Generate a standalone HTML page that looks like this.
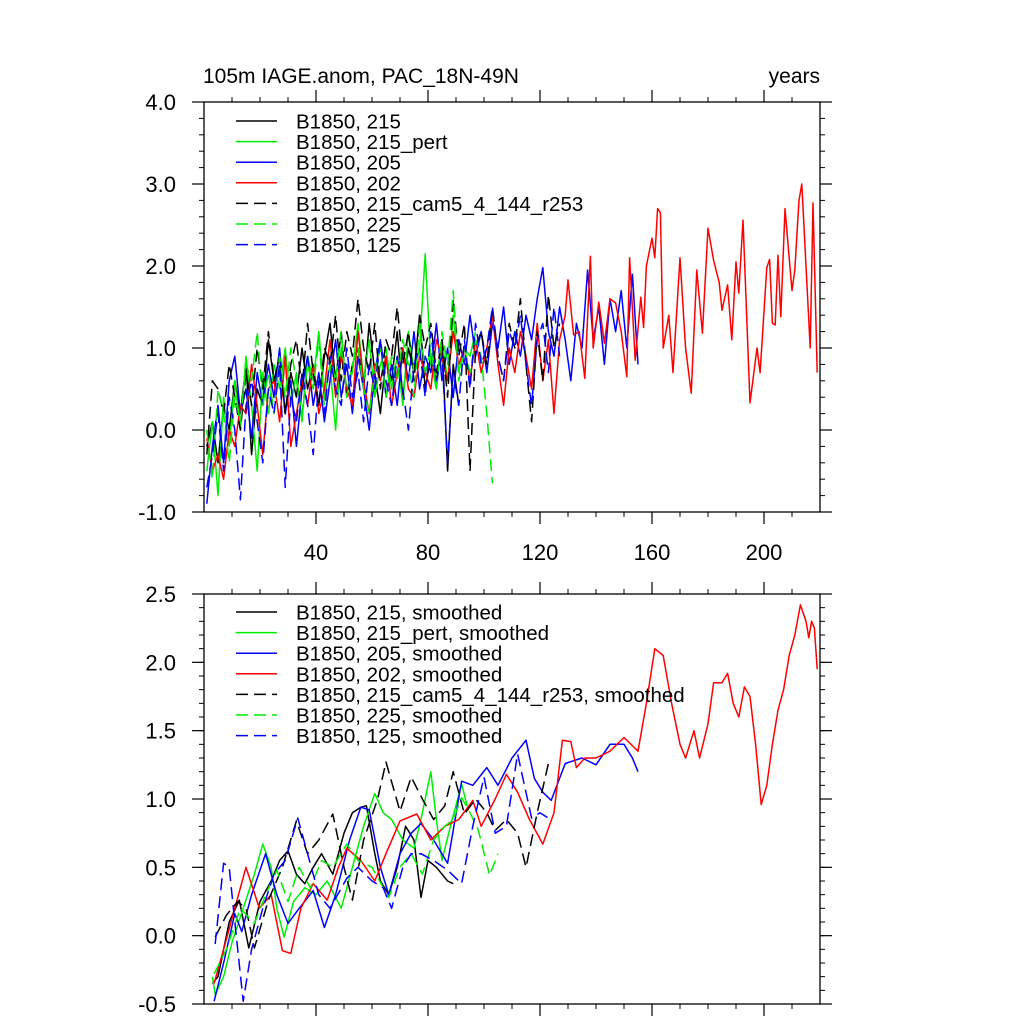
<!DOCTYPE html>
<html><head><meta charset="utf-8"><style>
html,body{margin:0;padding:0;background:#fff}
svg{display:block;font-family:"Liberation Sans",sans-serif}
</style></head><body>
<svg id="chart" width="1024" height="1024" viewBox="0 0 1024 1024" xmlns="http://www.w3.org/2000/svg">
<rect width="1024" height="1024" fill="#fff"/>
<text x="203" y="83" font-size="21">105m IAGE.anom, PAC_18N-49N</text>
<text x="820" y="83" font-size="21" text-anchor="end">years</text>
<g id="top"></g>
<g id="bot"></g>
</svg>
<script>
// ---------- data: top panel (raw), step 2 years from year 1 ----------
const xTicks = [40, 80, 120, 160, 200];
const topYTicks = [-1.0, 0.0, 1.0, 2.0, 3.0, 4.0];
const botYTicks = [-0.5, 0.0, 0.5, 1.0, 1.5, 2.0, 2.5];
const topLabels = ["B1850, 215","B1850, 215_pert","B1850, 205","B1850, 202","B1850, 215_cam5_4_144_r253","B1850, 225","B1850, 125"];
const botLabels = ["B1850, 215, smoothed","B1850, 215_pert, smoothed","B1850, 205, smoothed","B1850, 202, smoothed","B1850, 215_cam5_4_144_r253, smoothed","B1850, 225, smoothed","B1850, 125, smoothed"];
const colors = ["#000","#00ee00","#0000ff","#ff0000","#000","#00ee00","#0000ff"];
const dashed = [false,false,false,false,true,true,true];

const raw215 = [-0.2,0.1,-0.4,0.3,0.0,0.6,0.2,0.8,-0.3,0.5,0.3,1.1,0.6,0.9,0.2,0.7,0.4,1.0,0.5,0.8,0.3,0.9,1.3,0.6,1.2,0.4,0.8,1.0,0.5,1.3,0.7,0.2,0.9,0.6,1.2,0.4,1.0,0.7,1.4,0.5,0.9,0.6,1.1,-0.5,0.8,0.3];
const raw215pert = [-0.5,0.1,-0.8,0.4,-0.2,0.6,0.0,0.9,0.3,-0.5,0.7,0.2,0.8,0.5,1.0,0.3,0.7,0.1,0.9,0.6,1.2,0.4,0.8,0.0,1.0,0.5,0.7,1.3,0.6,1.1,0.4,0.8,1.0,0.5,0.9,0.3,1.2,0.7,1.0,2.15,0.8,0.5,1.1,0.6,1.4,0.7,1.0,0.9,1.2];
const raw205 = [-0.9,-0.2,0.3,-0.4,0.6,0.9,0.2,0.5,-0.1,0.7,0.3,0.8,0.4,1.0,0.2,0.6,-0.2,0.5,0.9,0.3,0.7,0.1,0.6,1.1,0.4,0.8,0.2,0.9,0.5,0.0,0.7,1.1,0.4,0.8,0.3,1.0,0.6,1.2,0.5,0.9,0.7,1.3,0.6,1.0,0.4,1.1,0.8,1.4,0.9,1.2,0.7,1.3,1.0,1.5,0.8,1.2,0.9,1.4,1.1,1.6,1.98,1.2,0.9,1.5,1.1,0.6,1.3,1.0,1.95,1.1,1.5,0.8,1.6,1.2,1.7,1.0,1.9,0.8];
const raw253 = [-0.3,0.6,0.5,0.2,0.8,0.4,0.0,0.7,0.3,1.0,0.5,1.2,0.6,0.9,0.2,0.8,1.1,0.5,1.3,0.7,0.3,1.0,0.8,1.4,0.6,1.2,0.9,1.6,1.0,0.7,1.3,0.5,1.1,0.9,1.5,0.8,1.2,0.6,1.4,1.0,1.3,0.7,1.1,0.4,1.6,0.9,1.3,-0.5,1.0,1.2,0.8,1.5,0.9,0.6,1.3,1.0,1.6,0.8,0.1,1.2,0.6,1.65,1.0,1.3];
const raw225 = [0.0,-0.6,0.5,0.2,-0.4,0.4,0.1,0.8,0.6,1.2,0.3,0.7,0.2,0.9,0.4,1.0,0.6,0.2,0.8,0.5,1.1,0.3,0.9,0.6,1.2,0.4,0.8,1.0,0.5,0.2,0.7,1.0,0.4,0.9,0.6,1.1,0.8,0.4,1.3,0.7,1.0,0.5,1.2,0.8,1.7,0.6,1.0,0.7,1.1,0.9,0.2,-0.65];
const raw125 = [-0.7,-0.3,0.2,-0.5,0.4,0.0,-0.85,0.3,0.6,0.1,-0.4,0.5,0.2,0.8,-0.7,0.4,0.1,0.7,0.3,-0.3,0.6,0.2,0.9,0.5,0.3,1.0,0.4,0.7,0.1,0.8,0.5,1.1,0.6,0.3,0.9,0.5,0.0,0.8,1.0,0.4,1.2,0.6,0.9,-0.4,0.7,0.3,1.1,0.5,1.3,0.8,1.0,1.5,0.9,0.6,1.2,1.0,1.4,0.8,0.3,1.1,1.3,0.7,1.5,0.9];
// red (202) raw given as year/value pairs
const raw202Years = [1,3,5,7,9,11,13,15,17,19,21,23,25,27,29,31,33,35,37,39,41,43,45,47,49,51,53,55,57,59,61,63,65,67,69,71,73,75,77,79,81,83,85,87,89,91,93,95,97,99,101,103,105,107,109,111,113,115,117,119,121,123,125,127,129,130,132,134,136,138,139,141,143,145,147,149,151,152,154,156,157,158,160,161,162,163,164,166,167.5,170,172,174,176,178,180,182,184,185,187,188.5,190,191,192.5,195,197.5,198.6,201,202,203,204,205,206,207.5,210,211,212.5,213.5,216.5,217.5,219];
const raw202Vals = [-0.1,-0.5,-0.3,-0.6,0.0,-0.2,0.3,0.2,0.8,0.3,-0.3,0.5,0.6,0.1,0.9,-0.2,0.2,0.6,0.3,0.8,0.2,0.5,1.1,0.4,0.9,0.5,0.3,1.2,0.6,0.2,0.8,0.6,0.9,0.3,0.7,1.0,0.5,0.4,0.9,0.7,0.5,1.1,0.9,0.6,1.2,0.8,1.0,0.6,1.1,0.7,1.0,1.4,0.8,0.3,1.0,0.7,1.2,0.9,0.5,1.3,0.6,1.1,0.2,1.1,1.4,1.83,1.16,1.2,0.63,2.12,1.0,1.56,1.06,1.6,1.55,1.2,0.65,2.1,0.85,1.62,1.25,2.0,2.34,2.1,2.7,2.65,1.0,1.4,0.7,2.1,1.0,0.45,1.95,1.18,2.46,2.07,1.8,1.46,1.77,1.1,2.05,1.67,2.56,0.33,1.0,0.7,1.98,2.08,1.3,1.28,2.13,1.38,2.7,1.7,1.95,2.8,3.0,1.0,2.77,0.7];

// ---------- data: bottom panel (smoothed), year/value pairs ----------
const sm215Years = [3,5,9,12.6,16,20,24,27,30,33,36,39,42,46,50,53,56,58,61,63,66,69,72,75,77.5,80,83,85,87,89];
const sm215Vals  = [-0.35,-0.3,0.1,0.26,-0.09,0.25,0.4,0.55,0.62,0.45,0.38,0.5,0.6,0.45,0.75,0.9,0.94,0.95,0.6,0.4,0.3,0.5,0.8,0.7,0.28,0.55,0.5,0.45,0.4,0.38];
const smPertYears = [3,4,7,10,14,18,21,24,26,28.6,32,36,40,44,49,53,57,61,64,67,71,75,78,81,83,85,88,92,94];
const smPertVals  = [-0.3,-0.43,-0.3,-0.05,0.2,0.45,0.67,0.5,0.2,-0.01,0.25,0.35,0.3,0.4,0.2,0.5,0.8,1.04,0.9,0.85,0.7,0.64,0.9,1.2,0.85,0.55,0.8,1.11,0.95];
const sm205Years = [3.6,7,11,13.5,17,22,26,30,34,39,43,47,52,56,59,63,66,70,74,77.5,82,87,92,96,101,105,110,115,118,121,124,129,135,140,145,150,153,155];
const sm205Vals  = [-0.48,-0.2,0.16,0.03,0.3,0.6,0.3,0.09,0.2,0.33,0.06,0.3,0.7,0.94,0.92,0.5,0.3,0.6,0.75,0.82,0.7,0.53,1.13,1.1,1.23,1.1,1.3,1.43,1.15,1.05,0.99,1.26,1.3,1.25,1.4,1.4,1.3,1.2];
const sm202Years = [3.6,7,11,15,19.8,24,28,31,34.6,39,44,48,51,56,61,65,70,76,81,86,91,96,99,104,108,112,116,121,125,128,131,133,136,140,145,150,155,158,161,164,167,170,172,175,177,180,182,185,187,189,191,193,195,197,199,201,203,205,207,209,211,213,215,216,217,218,219];
const sm202Vals  = [-0.35,-0.1,0.2,0.5,0.2,0.3,-0.11,-0.13,0.2,0.38,0.26,0.5,0.64,0.55,0.4,0.6,0.84,0.89,0.7,0.8,0.85,0.99,0.8,1.0,1.18,1.05,0.86,0.67,0.9,1.43,1.42,1.23,1.3,1.3,1.35,1.45,1.35,1.7,2.1,2.05,1.7,1.4,1.3,1.5,1.3,1.55,1.85,1.85,1.92,1.7,1.6,1.82,1.75,1.4,0.96,1.1,1.4,1.65,1.8,2.05,2.2,2.42,2.3,2.18,2.3,2.25,1.95];
const sm253Years = [4,8,12,15,18,23,28,33,37,41,46,50,53,57,62,65,70,74,78,82,86,89,93,97,101,104,108,112,115,119,123,124];
const sm253Vals  = [-0.01,0.15,0.25,0.2,-0.09,0.26,0.5,0.84,0.6,0.7,0.89,0.5,0.26,0.7,1.0,1.27,0.91,1.16,1.0,0.85,0.95,1.2,0.89,1.0,0.9,0.77,0.85,0.75,0.5,0.9,1.26,1.25];
const sm225Years = [3.6,8,13,18,22,26,30,34,38,42,46,51,55,60,66,70,74,78,82,86,89,92,95,98,102,105];
const sm225Vals  = [-0.28,-0.1,0.2,0.09,0.3,0.48,0.25,0.5,0.35,0.55,0.5,0.67,0.55,0.5,0.28,0.5,0.6,0.45,0.7,0.8,0.85,1.01,0.9,0.77,0.44,0.6];
const sm125Years = [4,7,9,11,14,17,21,25,29,33.5,37,41,45,51,55,60,64,67,71,74,77.5,82,87,92,96,100,104,108,112,117,120,123];
const sm125Vals  = [-0.06,0.53,0.5,0.1,-0.48,-0.1,0.2,0.45,0.55,0.86,0.6,0.3,0.2,0.42,0.5,0.4,0.35,0.2,0.5,0.6,0.6,0.55,0.48,0.38,0.8,1.16,0.75,0.8,1.33,0.86,0.9,0.86];

// ---------- drawing ----------
const NS = "http://www.w3.org/2000/svg";
const X0 = 204, X1 = 820, XMAX = 220;
function xScale(yr){ return X0 + yr * (X1 - X0) / XMAX; }
function mk(tag, attrs, parent){ const e = document.createElementNS(NS, tag); for (const k in attrs) e.setAttribute(k, attrs[k]); parent.appendChild(e); return e; }

function drawPanel(g, top, bot, ymin, ymax, yTicks, yMinorStep, showXLabels, labels, legendY0, series){
  const yScale = v => bot - (v - ymin) * (bot - top) / (ymax - ymin);
  for (let v = ymin; v <= ymax + 1e-9; v += yMinorStep){
    const y = yScale(v);
    const t1 = mk("line", {x1: X0 - 5, x2: X0, y1: y, y2: y, stroke: "#000", "stroke-width": 1}, g);
    
    
    const t2 = mk("line", {x1: X1, x2: X1 + 5, y1: y, y2: y, stroke: "#000", "stroke-width": 1}, g);
    
    
  }
  yTicks.forEach(v => {
    const y = yScale(v);
    const t = mk("line", {x1: X0 - 12, x2: X0, y1: y, y2: y, stroke: "#000", "stroke-width": 1.2}, g);
    
    
    const t2 = mk("line", {x1: X1, x2: X1 + 12, y1: y, y2: y, stroke: "#000", "stroke-width": 1.2}, g);
    
    
    const lb = mk("text", {x: 176, y: y + 8, "font-size": 22, "text-anchor": "end"}, g);
    lb.textContent = v.toFixed(1);
    
    
  });
  for (let yr = 10; yr < XMAX; yr += 10){
    const x = xScale(yr);
    const major = yr % 40 === 0;
    const len = major ? 12 : 5;
    const a = mk("line", {x1: x, x2: x, y1: bot, y2: bot + len, stroke: "#000", "stroke-width": major ? 1.2 : 1}, g);
    
    
    const b = mk("line", {x1: x, x2: x, y1: top - len, y2: top, stroke: "#000", "stroke-width": major ? 1.2 : 1}, g);
    
    
  }
  if (showXLabels){
    xTicks.forEach(v => {
      const lb = mk("text", {x: xScale(v), y: bot + 48, "font-size": 22, "text-anchor": "middle"}, g);
      lb.textContent = String(v);
      
      
    });
  }
  const clipId = "clip" + top;
  const cp = mk("clipPath", {id: clipId}, g);
  mk("rect", {x: X0, y: top, width: X1 - X0, height: bot - top}, cp);
  const lg = mk("g", {"clip-path": "url(#" + clipId + ")"}, g);
  series.forEach((s, i) => {
    const pts = s.years.map((yr, j) => xScale(yr).toFixed(1) + "," + yScale(s.vals[j]).toFixed(1)).join(" ");
    const p = mk("polyline", {points: pts, fill: "none", stroke: colors[i], "stroke-width": 1.5, "stroke-linejoin": "round"}, lg);
    if (dashed[i]) p.setAttribute("stroke-dasharray", "12 6");
    
    
  });
  const fr = mk("rect", {x: X0, y: top, width: X1 - X0, height: bot - top, fill: "none", stroke: "#000", "stroke-width": 1.3}, g);
  
  
  labels.forEach((lab, i) => {
    const y = legendY0 + i * 20.6;
    const ln = mk("line", {x1: 236, x2: 277, y1: y, y2: y, stroke: colors[i], "stroke-width": 1.5}, g);
    if (dashed[i]) ln.setAttribute("stroke-dasharray", "12 6");
    
    
    const t = mk("text", {x: 296, y: y + 7.5, "font-size": 20.5}, g);
    t.textContent = lab;
    
    
  });
}
function stepYears(n){ const a = []; for (let i = 0; i < n; i++) a.push(1 + 2 * i); return a; }

drawPanel(document.getElementById("top"), 102, 512, -1.0, 4.0, topYTicks, 0.2, true, topLabels, 121, [
  {years: stepYears(raw215.length), vals: raw215},
  {years: stepYears(raw215pert.length), vals: raw215pert},
  {years: stepYears(raw205.length), vals: raw205},
  {years: raw202Years, vals: raw202Vals},
  {years: stepYears(raw253.length), vals: raw253},
  {years: stepYears(raw225.length), vals: raw225},
  {years: stepYears(raw125.length), vals: raw125}
]);
drawPanel(document.getElementById("bot"), 594, 1004, -0.5, 2.5, botYTicks, 0.1, false, botLabels, 612, [
  {years: sm215Years, vals: sm215Vals},
  {years: smPertYears, vals: smPertVals},
  {years: sm205Years, vals: sm205Vals},
  {years: sm202Years, vals: sm202Vals},
  {years: sm253Years, vals: sm253Vals},
  {years: sm225Years, vals: sm225Vals},
  {years: sm125Years, vals: sm125Vals}
]);
</script>
</body></html>
